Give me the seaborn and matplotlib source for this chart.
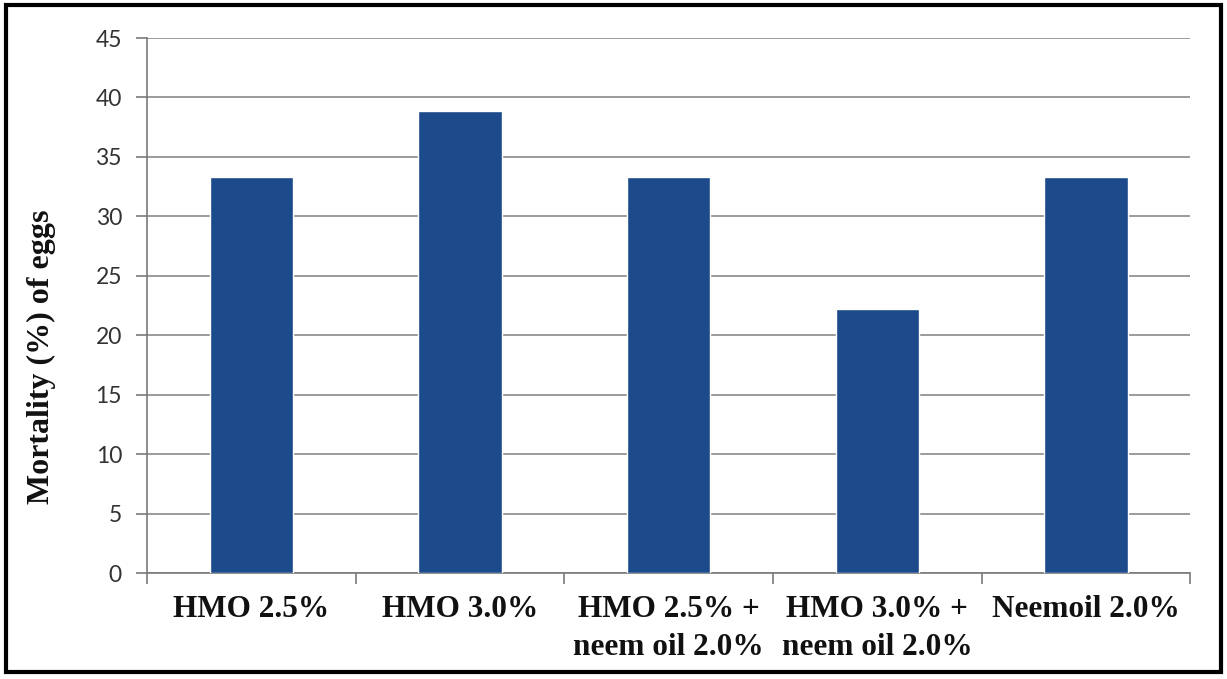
import matplotlib
matplotlib.use("Agg")
import matplotlib.pyplot as plt
from matplotlib.patches import Rectangle
from matplotlib.ticker import FixedLocator
import seaborn as sns
import pandas as pd

# Egg mortality per treatment
treatments = ["HMO 2.5%", "HMO 3.0%", "HMO 2.5% +\nneem oil 2.0%",
              "HMO 3.0% +\nneem oil 2.0%", "Neemoil 2.0%"]
mortality = [33.3, 38.9, 33.3, 22.2, 33.3]
y_ticks = [0, 5, 10, 15, 20, 25, 30, 35, 40, 45]

df = pd.DataFrame({"treatment": treatments, "mortality": mortality})

sns.set_theme(style="white")
plt.rcParams["font.family"] = ["Lato", "DejaVu Sans"]

fig = plt.figure(figsize=(12.27, 6.79), dpi=100)
ax = fig.add_axes([0.1198, 0.156, 0.8502, 0.788])

sns.barplot(data=df, x="treatment", y="mortality", color="#1c4a8b",
            width=0.4, saturation=1, ax=ax, zorder=3)

ax.set_ylim(0, 45)
ax.set_xlim(-0.5, len(treatments) - 0.5)
ax.set_yticks(y_ticks)
ax.yaxis.grid(True, color="#8a8a8a", linewidth=1.2, zorder=0)
ax.set_axisbelow(True)

for s in ["top", "right"]:
    ax.spines[s].set_visible(False)
for s in ["left", "bottom"]:
    ax.spines[s].set_color("#7a7a7a")
    ax.spines[s].set_linewidth(1.2)

ax.tick_params(axis="y", which="major", length=8, width=1.2, color="#7a7a7a",
               labelsize=16.5, labelcolor="#333333", direction="out", left=True, pad=10)
ax.tick_params(axis="x", which="major", length=0, pad=16)
ax.xaxis.set_minor_locator(FixedLocator([i - 0.5 for i in range(len(treatments) + 1)]))
ax.tick_params(axis="x", which="minor", length=8, width=1.2, color="#7a7a7a",
               direction="out", bottom=True)

for lab in ax.get_xticklabels():
    lab.set_fontfamily("Liberation Serif")
    lab.set_fontweight("bold")
    lab.set_fontsize(22.5)
    lab.set_color("#111111")
    lab.set_linespacing(1.4)

ax.set_xlabel("")
ax.set_ylabel("Mortality (%) of eggs", fontfamily="Liberation Serif",
              fontweight="bold", fontsize=23, color="#111111")
ax.yaxis.set_label_coords(-0.087, 0.404)

# Outer frame around the whole chart
fig.patches.append(Rectangle((0.005, 0.01), 0.99, 0.983, transform=fig.transFigure,
                             fill=False, edgecolor="black", linewidth=3))

fig.savefig("out.png", dpi=100, facecolor="white")
